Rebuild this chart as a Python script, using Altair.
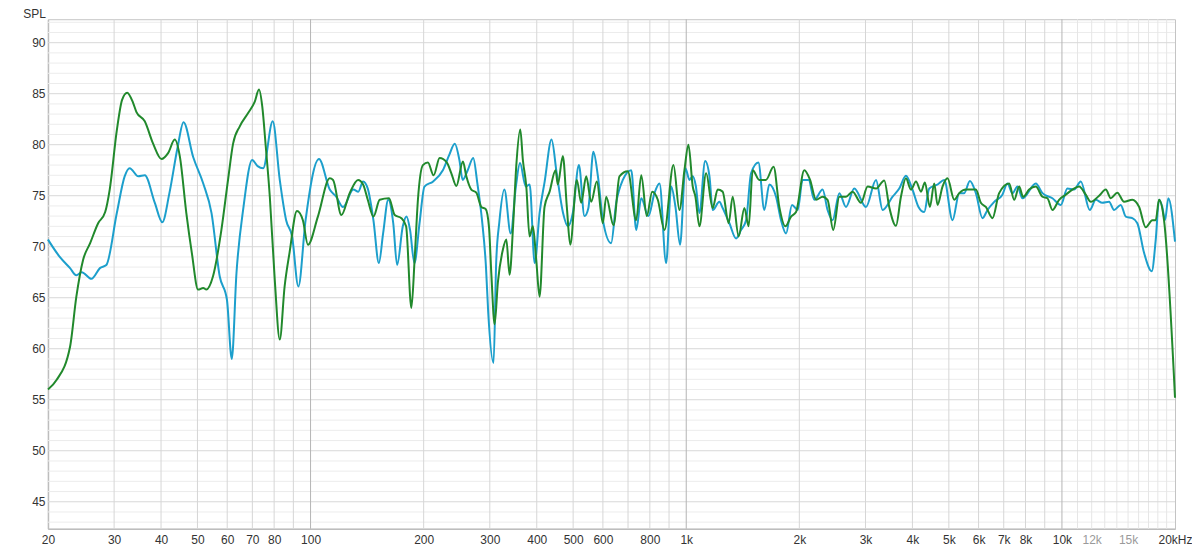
import altair as alt
import pandas as pd

# ---------------- data ----------------
blue_freq = [20, 21.5, 22.9, 23.8, 24.6, 26.1, 27.5, 28.6, 30.5, 32.0, 33.0, 34.8, 36.2, 38.5, 40.3,
             42.1, 44.3, 45.9, 48.7, 51.8, 54.5, 57.3, 59.9, 61.7, 63.5, 66.3, 69.9, 72.3, 74.8, 79.3,
             82.8, 86.1, 89.3, 92.8, 97.0, 105.3, 112.5, 117, 122, 130, 134, 138, 142, 147, 152, 156,
             161, 166, 170, 176, 180, 184, 189, 195, 201, 212, 225, 234, 242, 249, 254, 262, 271, 278,
             286, 293, 297, 307, 312, 318, 328, 341, 352, 361, 374, 383, 395, 407, 420, 438, 452, 470,
             484, 499, 518, 536, 549, 566, 582, 600, 631, 651, 678, 714, 736, 759, 793, 823, 849, 884,
             912, 936, 963, 995, 1020, 1040, 1060, 1084, 1123, 1153, 1176, 1225, 1250, 1303, 1357, 1400,
             1443, 1488, 1556, 1614, 1664, 1734, 1788, 1844, 1912, 1980, 2041, 2117, 2192, 2307, 2378,
             2453, 2556, 2662, 2801, 3009, 3200, 3332, 3542, 3690, 3844, 4002, 4152, 4300, 4434, 4666,
             4861, 5115, 5329, 5494, 5689, 5902, 6145, 6337, 6603, 6944, 7161, 7385, 7615, 7852, 8522,
             8875, 9435, 9932, 10342, 10774, 11226, 11862, 12307, 12812, 13350, 13766, 14344, 14790,
             15398, 15877, 16544, 17340, 17772, 18132, 18502, 18812, 19196, 20000]
blue_spl = [70.7, 69.0, 67.9, 67.2, 67.5, 66.85, 67.9, 68.2, 73.3, 76.9, 77.7, 76.9, 77.0, 74.3, 72.4,
            75.25, 79.8, 82.2, 78.8, 76.2, 73.3, 67.1, 64.8, 59.0, 67.4, 73.9, 78.5, 77.9, 77.7, 82.3,
            76.55, 72.6, 71.0, 66.1, 72.6, 78.6, 75.6, 74.9, 73.9, 75.6, 75.4, 76.4, 75.7, 72.6, 68.4, 71.3,
            74.6, 72.3, 68.2, 72.0, 72.95, 71.65, 68.4, 72.3, 75.9, 76.4, 77.5, 79.0, 80.1, 78.5, 76.55, 77.5, 78.7, 76.2,
            72.6, 68.05, 63.65, 58.6, 68.5, 72.4, 75.6, 71.3, 75.9, 78.2, 75.9, 76.1, 68.4, 73.3, 76.4, 80.5, 77.2, 73.3,
            72.0, 73.3, 78.0, 73.0, 73.8, 79.3, 76.9, 72.6, 70.35, 74.3, 76.55, 77.5, 71.65, 74.75, 73.0, 75.25, 76.2, 68.4,
            75.9, 73.9, 70.2, 77.7, 76.55, 76.9, 76.0, 73.3, 78.4, 76.9, 73.6, 74.4, 73.8, 72.3, 70.8, 71.65,
            72.6, 77.2, 78.25, 73.6, 76.1, 74.9, 72.6, 71.3, 74.1, 73.6, 76.55, 76.55, 74.6, 75.6, 73.6,
            72.6, 75.25, 73.9, 75.7, 73.9, 76.55, 73.6, 74.9, 75.7, 76.95, 75.6, 73.9, 73.4, 75.7, 76.1,
            76.55, 72.6, 75.25, 75.25, 76.45, 75.25, 72.8, 73.6, 74.4, 75.1, 76.2, 75.25, 75.9, 74.75, 76.2,
            75.25, 74.75, 74.1, 75.7, 75.6, 76.4, 73.6, 74.6, 74.3, 74.4, 73.6, 74.1, 72.95,
            72.8, 72.3, 69.4, 67.6, 70.7, 74.6, 73.9, 72.6, 74.75, 70.5]

green_freq = [20, 21.1, 22.9, 23.8, 24.8, 25.9, 27.2, 28.4, 29.2, 30.5, 31.5, 32.5, 33.7, 34.4, 36.2,
              38.1, 40.1, 41.8, 43.5, 44.9, 46.7, 48.3, 50.2, 51.8, 52.8, 55.0, 57.9, 60.3, 62.2, 64.8,
              68.2, 71.0, 72.9, 74.4, 76.0, 77.9, 80.3, 82.8, 85.3, 87.9, 92.0, 95.4, 98.4, 104.6, 112.5,
              114.8, 120.8, 127.1, 133.8, 138, 142, 147, 152.8, 161.7, 167.5, 174.5, 179.6, 185.5, 189.2,
              193.1, 199.1, 205.3, 212.6, 220.6, 230.6, 237, 244.4, 254.4, 259.8, 267.8, 276.2, 284.8,
              292.4, 298.4, 302.8, 309, 315.2, 325, 332, 338.6, 346, 352.8, 361.6, 367.4, 375.2, 382.8,
              390.6, 398.8, 407, 419.6, 432.8, 449, 455.2, 469.4, 481, 491.2, 511.4, 525.4, 541.6, 558.6,
              578, 599.8, 612.2, 640.4, 664.2, 699, 735.8, 759, 785.2, 811.6, 840, 875, 924.6, 959.2, 989,
              1013.6, 1040.6, 1058, 1084, 1129.6, 1176, 1212.4, 1250, 1297, 1329, 1379, 1428, 1466, 1503,
              1565, 1630, 1708, 1769, 1836, 1901, 1960, 2062, 2136, 2216, 2307, 2378, 2462, 2556, 2662,
              2772, 2918, 3040, 3200, 3366, 3470, 3616, 3728, 3844, 3964, 4088, 4216, 4318, 4452, 4572,
              4666, 4810, 4960, 5168, 5329, 5550, 5902, 6084, 6274, 6534, 6806, 7236, 7462, 7694, 7884,
              8180, 8522, 8875, 9150, 9435, 9828, 10240, 10664, 11110, 11574, 11936, 12562, 13086, 13490,
              14046, 14636, 15398, 16048, 16716, 17404, 17772, 18132, 18698, 20000]
green_spl = [56.0, 56.95, 60.2, 65.1, 68.7, 70.35, 72.3, 73.4, 75.6, 81.4, 84.4, 85.1, 84.1, 83.2, 82.3,
             80.1, 78.6, 79.2, 80.5, 78.8, 73.3, 69.4, 65.8, 65.95, 65.8, 67.1, 71.65, 76.55, 80.1, 81.8,
             83.1, 84.2, 85.4, 83.7, 79.8, 74.9, 66.75, 60.9, 66.1, 69.4, 73.5, 72.6, 70.2, 72.95, 76.7,
             76.55, 73.1, 75.25, 76.55, 76.1, 74.6, 72.95, 74.6, 74.75, 73.1, 72.8, 72.0, 64.0, 68.7,
             74.6, 78.0, 78.25, 77.0, 78.7, 78.25, 77.2, 75.95, 78.35, 76.9, 75.6, 75.3, 73.9,
             73.7, 72.0, 67.4, 62.4, 66.5, 69.7, 70.7, 67.25, 72.0, 77.9, 81.5, 78.5, 75.9, 71.0,
             72.0, 68.7, 65.1, 73.9, 75.4, 77.5, 76.1, 78.9, 73.9, 70.2, 76.55, 74.3, 76.9, 74.4,
             76.4, 72.3, 74.9, 72.1, 76.9, 77.4, 72.6, 77.0, 73.0, 75.4, 74.6, 71.65, 78.0, 73.6, 77.5,
             80.0, 75.9, 74.9, 72.0, 77.2, 73.8, 75.6, 75.4, 72.3, 74.9, 71.0, 73.8, 72.0, 77.5,
             76.55, 76.55, 77.85, 73.9, 72.0, 72.95, 73.4, 77.5, 76.55, 74.6, 74.9, 74.6, 71.65, 74.9, 74.9,
             75.4, 74.3, 75.9, 75.7, 76.5, 73.9, 72.05, 74.9, 76.7, 75.6, 76.4, 75.4, 76.3, 73.9, 76.2,
             74.1, 75.9, 76.7, 74.6, 75.25, 75.6, 75.6, 74.3, 73.9, 72.8, 75.25, 76.2, 74.6, 75.9, 74.9,
             75.6, 75.9, 74.9, 74.75, 73.6, 74.6, 75.1, 75.6, 75.9, 75.1, 74.4, 75.0, 75.6, 74.75,
             75.3, 74.4, 74.6, 73.9, 71.9, 72.6, 72.6, 74.6, 72.6, 55.2]

x_tick_values = [20, 30, 40, 50, 60, 70, 80, 100, 200, 300, 400, 500, 600, 800, 1000,
                 2000, 3000, 4000, 5000, 6000, 7000, 8000, 10000, 12000, 15000, 20000]
y_tick_values = [45, 50, 55, 60, 65, 70, 75, 80, 85, 90]

x_grid_normal = [30, 40, 50, 60, 70, 80, 90, 200, 300, 400, 500, 600, 700, 800, 900,
                 2000, 3000, 4000, 5000, 6000, 7000, 8000, 9000]
x_grid_fine = [11000, 12000, 13000, 14000, 15000, 16000, 17000, 18000, 19000]
x_grid_major = [100, 1000, 10000]
y_grid_major = [45, 50, 55, 60, 65, 70, 75, 80, 85, 90]
y_grid_minor = [v for v in range(43, 93) if v % 5 != 0]

BLUE = "#1c9fcc"
GREEN = "#21892c"
FONT = "Liberation Sans"
TEXT = "#333333"

x_scale = alt.Scale(type="log", domain=[20, 20000], nice=False)
y_scale = alt.Scale(domain=[42.35, 92.3], nice=False, zero=False)

x_axis = alt.Axis(
    values=x_tick_values,
    labelExpr="datum.value == 20000 ? '20kHz' : (datum.value >= 1000 ? (datum.value / 1000) + 'k' : '' + datum.value)",
    grid=False, ticks=False, domain=True, domainColor="#bdbdbd", domainWidth=1.5,
    labelFont=FONT, labelFontSize=12, labelPadding=6, labelOverlap=False, labelFlush=False,
    labelColor={"condition": {"test": "datum.value == 12000 || datum.value == 15000", "value": "#9a9a9a"},
                "value": TEXT},
    title=None,
)
y_axis = alt.Axis(
    values=y_tick_values, grid=False, ticks=False, domain=True, domainColor="#bdbdbd", domainWidth=1.5,
    labelFont=FONT, labelFontSize=12, labelColor=TEXT, labelPadding=3, labelFlush=False,
    title="SPL", titleAngle=0, titleX=-14, titleY=-1.5, titleAlign="center", titleBaseline="alphabetic",
    titleFont=FONT, titleFontSize=12, titleFontWeight="normal", titleColor=TEXT,
)

blue_df = pd.DataFrame({"freq": blue_freq, "spl": blue_spl})
green_df = pd.DataFrame({"freq": green_freq, "spl": green_spl})


def hgrid(values, color):
    return alt.Chart(pd.DataFrame({"freq": [20] * len(values), "spl": values})).mark_rule(
        color=color, strokeWidth=1).encode(
        y=alt.Y("spl:Q", scale=y_scale, axis=y_axis))


def vgrid(values, color):
    return alt.Chart(pd.DataFrame({"freq": values, "spl": [60] * len(values)})).mark_rule(
        color=color, strokeWidth=1).encode(
        x=alt.X("freq:Q", scale=x_scale, axis=x_axis))


def curve(df, color):
    return alt.Chart(df).mark_line(color=color, strokeWidth=2, interpolate="monotone").encode(
        x=alt.X("freq:Q", scale=x_scale, axis=x_axis),
        y=alt.Y("spl:Q", scale=y_scale, axis=y_axis),
    )


chart = alt.layer(
    hgrid(y_grid_minor, "#ececec"),
    vgrid(x_grid_fine, "#e6e6e6"),
    hgrid(y_grid_major, "#d8d8d8"),
    vgrid(x_grid_normal, "#d6d6d6"),
    vgrid(x_grid_major, "#b5b5b5"),
    curve(blue_df, BLUE),
    curve(green_df, GREEN),
).properties(
    width=1128, height=510,
    autosize=alt.AutoSizeParams(type="none"),
    padding={"left": 40, "top": 11, "right": 17, "bottom": 25},
    background="white",
).configure_view(stroke="#c4c4c4", strokeWidth=1)

chart.save("out.html", embed_options={"renderer": "svg", "actions": False})
